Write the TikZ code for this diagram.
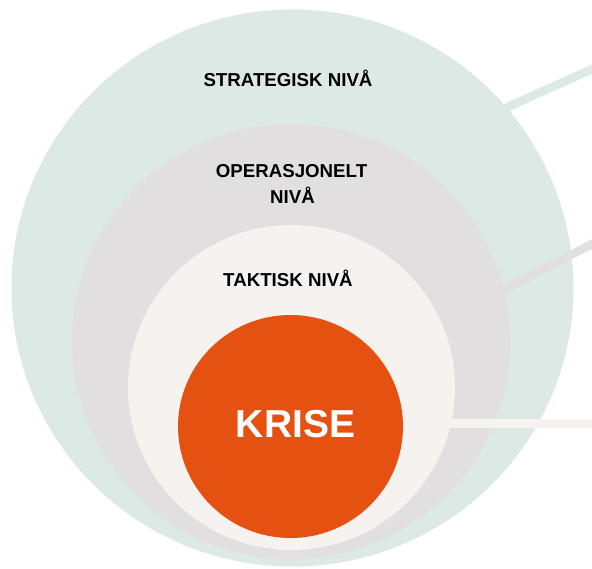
\documentclass[tikz,border=0pt]{standalone}
\usepackage{fontspec}
\setmainfont{Liberation Sans}
\usetikzlibrary{shapes.geometric}
\definecolor{cgreen}{HTML}{DDE9E4}
\definecolor{cgray}{HTML}{E2DFE0}
\definecolor{clight}{HTML}{F5F2EF}
\definecolor{corange}{HTML}{E55111}
\definecolor{ctext}{HTML}{000000}
\tikzset{
  ring/.style={ellipse, draw=none, inner sep=0pt, outer sep=0pt},
  lvl/.style={font=\fontsize{18.7}{26}\selectfont\bfseries, text=ctext, align=center, inner sep=0pt, anchor=base},
  bar/.style={line width=8.5pt, line cap=butt},
}
\begin{document}
\begin{tikzpicture}[x=1pt, y=-1pt]
\useasboundingbox (0,0) rectangle (592,568);
\clip (0,0) rectangle (592,568);
\fill[white] (0,0) rectangle (592,568);
% rings
\node[ring, fill=cgreen, minimum width=562pt, minimum height=557pt] (strat) at (292.5,288) {};
\node[ring, fill=cgray, minimum width=438pt, minimum height=435pt] (oper) at (291,341.5) {};
\node[ring, fill=clight, minimum width=327pt, minimum height=325pt] (takt) at (291.5,387.5) {};
\node[ring, fill=corange, minimum width=225pt, minimum height=223pt] (krise) at (290.5,426.5) {};
% connector ends
\coordinate (s1) at (480,119.7);
\coordinate (e1) at (600,65.4);
\coordinate (s2) at (490,296.8);
\coordinate (e2) at (600,239.9);
\coordinate (s3) at (440,423.5);
\coordinate (e3) at (600,423.5);
\draw[bar, cgreen] (s1) -- (e1);
\draw[bar, cgray] (s2) -- (e2);
\draw[bar, clight, line width=9pt] (s3) -- (e3);
% labels
\node[lvl] (tstrat) at (288,86) {STRATEGISK NIVÅ};
\node[lvl] (toper1) at (291.5,177) {OPERASJONELT};
\node[lvl] (toper2) at (292.5,203) {NIVÅ};
\node[lvl] (ttakt) at (288,286) {TAKTISK NIVÅ};
\node[font=\fontsize{39}{44}\selectfont\bfseries, text=white, inner sep=0pt, anchor=base] (tkrise) at (295.5,437) {KRISE};
\end{tikzpicture}
\end{document}
